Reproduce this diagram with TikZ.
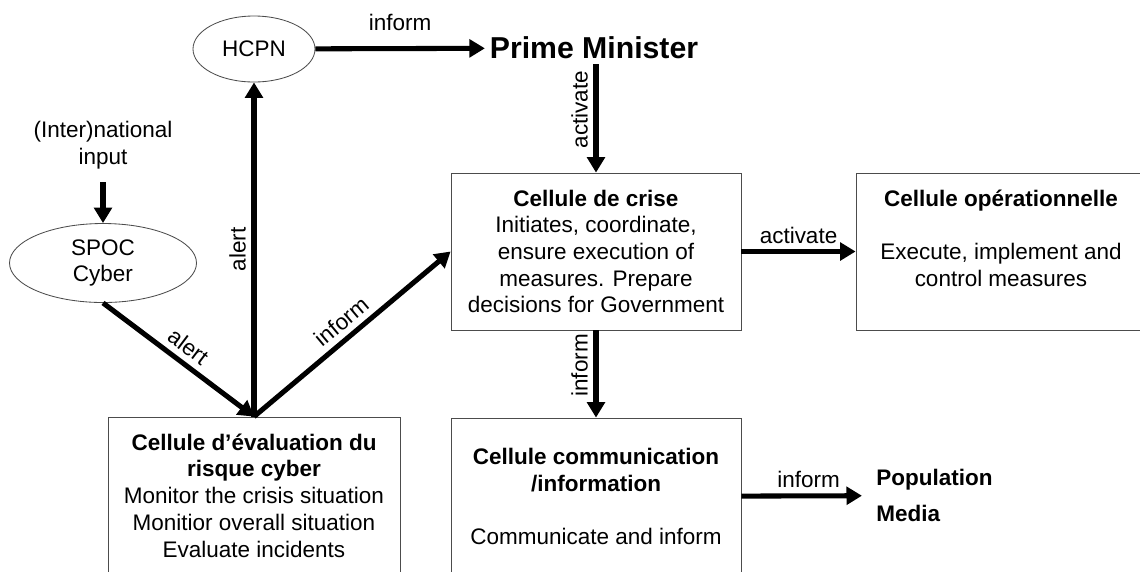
\documentclass[tikz,border=0pt]{standalone}
\usepackage{fontspec}
\setmainfont{Liberation Sans}
\usepackage{tikz}
\usetikzlibrary{shapes.geometric, arrows.meta}

\tikzset{
  txt/.style={font=\fontsize{16pt}{19pt}\selectfont, align=center},
  box/.style={txt, draw=black!70, line width=0.6pt, minimum width=7.25cm,
    minimum height=3.925cm, inner sep=2pt},
  bubble/.style={txt, ellipse, draw=black!70, line width=0.6pt, inner sep=0pt},
  flow/.style={line width=3.6pt, -{Triangle[length=11pt,width=12.5pt]}},
  lbl/.style={font=\fontsize{16pt}{19pt}\selectfont, inner sep=4pt}
}

\begin{document}
\begin{tikzpicture}

\useasboundingbox (0,0) rectangle (28.5,-14.275);

% Noeuds du haut
\node[bubble, minimum width=3.05cm, minimum height=1.65cm] (hcpn) at (6.35,-1.225) {HCPN};
\node[font=\fontsize{21.5pt}{25pt}\selectfont\bfseries] (pm) at (14.85,-1.2) {Prime Minister};

% Entree et SPOC
\node[txt] (input) at (2.575,-3.625) {(Inter)national\\input};
\node[bubble, minimum width=4.675cm, minimum height=1.975cm] (spoc) at (2.575,-6.575) {SPOC\\Cyber};

% Cellules
\node[box] (crise) at (14.9,-6.2875) {\textbf{Cellule de crise}\\Initiates, coordinate,\\ensure execution of\\measures. Prepare\\decisions for Government};
\node[box] (oper) at (25.025,-6.2875) {\textbf{Cellule opérationnelle}\\[19pt]Execute, implement and\\control measures\\ \mbox{}};
\node[box, minimum width=7.3cm] (evalc) at (6.35,-12.3875) {\textbf{Cellule d’évaluation du}\\\textbf{risque cyber}\\Monitor the crisis situation\\Monitior overall situation\\Evaluate incidents};
\node[box] (comm) at (14.9,-12.4125) {\textbf{Cellule communication}\\\textbf{/information}\\[19pt]Communicate and inform};
\node[font=\fontsize{16pt}{25pt}\selectfont\bfseries, align=left, anchor=west, inner sep=0pt] (popmedia) at (21.9,-12.3875) {Population\\Media};

% fleches
\draw[flow, shorten <=6pt] (input) -- (spoc);
\draw[flow] (spoc.south) -- (evalc.north) node[lbl, midway, sloped, above] {alert};
\draw[flow] (evalc.north) -- (hcpn) node[lbl, midway, rotate=90, anchor=south] {alert};
\draw[flow] (evalc.north) -- (crise.west) node[lbl, midway, sloped, above] {inform};
\draw[flow] (hcpn) -- (pm) node[lbl, midway, above=7pt] {inform};
\draw[flow] (pm.south -| crise.north) -- (crise.north) node[lbl, pos=0.42, rotate=90, anchor=south] {activate};
\draw[flow] (crise) -- (oper) node[lbl, midway, above] {activate};
\draw[flow] (crise) -- (comm) node[lbl, pos=0.4, rotate=90, anchor=south] {inform};
\draw[flow, shorten >=10pt] (comm) -- (popmedia) node[lbl, midway, above] {inform};

\end{tikzpicture}
\end{document}
